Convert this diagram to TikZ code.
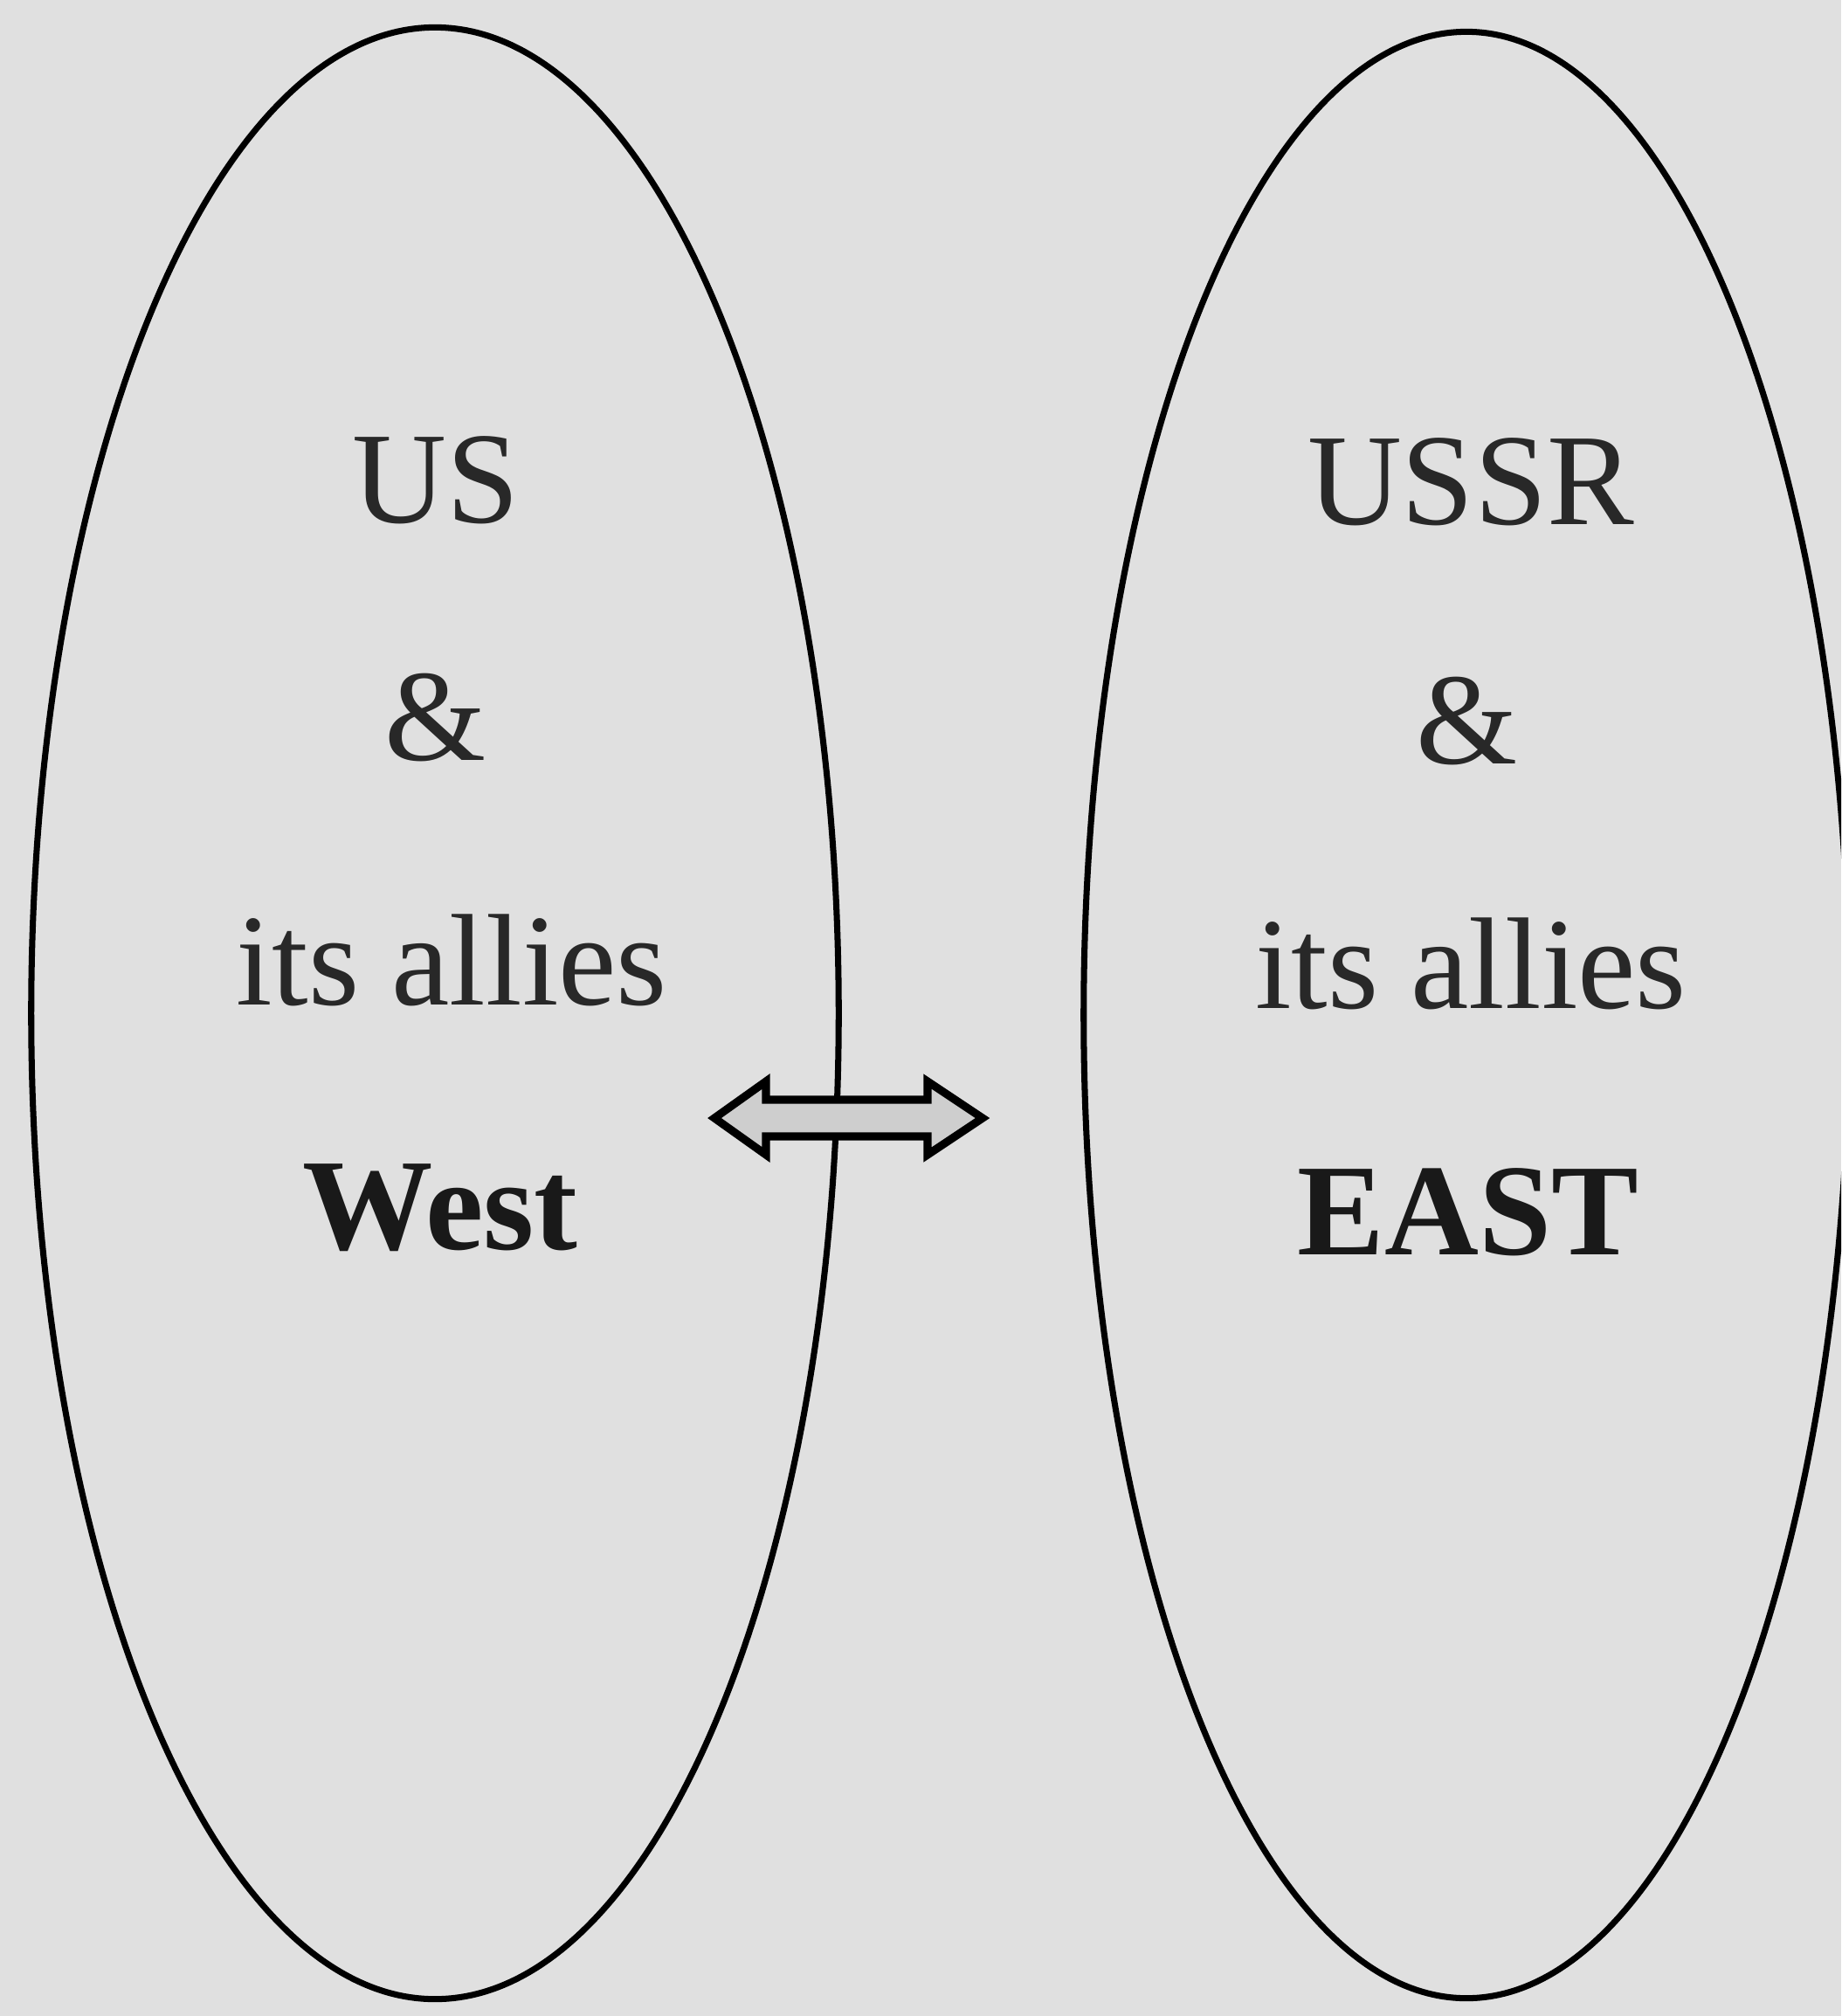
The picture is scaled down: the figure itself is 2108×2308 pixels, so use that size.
\documentclass[tikz,border=0pt]{standalone}
\usepackage{fontspec}
\setmainfont{Liberation Serif}
\usetikzlibrary{shapes.geometric}
\definecolor{bgcol}{RGB}{224,224,224}
\definecolor{arrfill}{RGB}{206,206,206}
\definecolor{txtcol}{RGB}{40,40,40}
\tikzset{
  bloc/.style={draw=black, line width=2pt, ellipse, inner sep=0pt, outer sep=0pt},
  lbl/.style={anchor=base, inner sep=0pt, text=txtcol, font=\fontsize{42.5}{50}\selectfont},
  blbl/.style={lbl, text=black!90, font=\fontsize{42.5}{50}\selectfont\bfseries},
  arrowshape/.style={draw=black, line width=2.6pt, fill=arrfill, line join=miter}
}
\begin{document}
\begin{tikzpicture}[x=0.01cm, y=-0.01cm]
\fill[bgcol] (0,0) rectangle (2108,2308);
\useasboundingbox (0,0) rectangle (2108,2308);
\clip (0,0) rectangle (2108,2308);
% ellipses
\node[bloc, minimum width=9.24cm, minimum height=22.56cm] (west) at (498,1160) {};
\node[bloc, minimum width=8.76cm, minimum height=22.5cm] (east) at (1679,1162) {};
% left texts
\node[lbl] (us) at (499,598) {US};
\node[lbl] (amp1) at (499,870) {\&};
\node[lbl] (allies1) at (517,1150) {its allies};
\node[blbl] (westlbl) at (504,1430) {West};
% right texts
\node[lbl] (ussr) at (1684,600) {USSR};
\node[lbl] (amp2) at (1680,874) {\&};
\node[lbl] (allies2) at (1684,1154) {its allies};
\node[blbl] (eastlbl) at (1681,1436) {EAST};
% double arrow
\draw[arrowshape] (818,1280) -- (877,1238) -- (877,1259) -- (1062,1259) -- (1062,1238)
  -- (1125,1280) -- (1062,1322) -- (1062,1301) -- (877,1301) -- (877,1322) -- cycle;
\end{tikzpicture}
\end{document}
